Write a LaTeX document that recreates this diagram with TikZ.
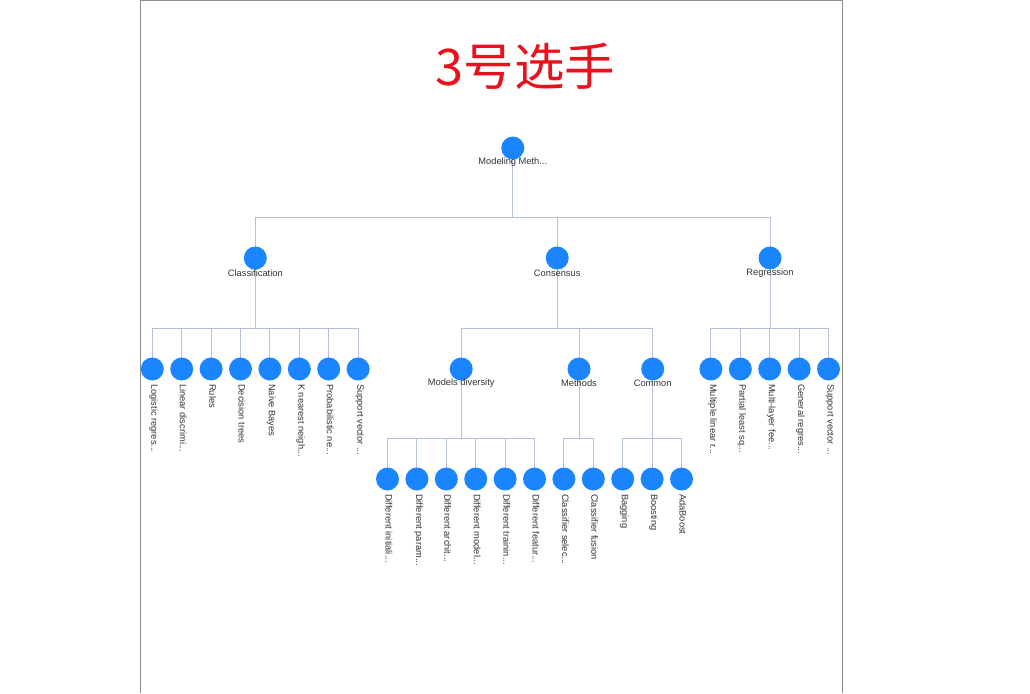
\documentclass[tikz,border=0pt]{standalone}
\usepackage{fontspec}
\setmainfont{Liberation Sans}
\newfontfamily\cjk{Noto Sans CJK SC}
\usetikzlibrary{backgrounds}
\newcommand\trdots{.{}.{}.}
\definecolor{dotblue}{HTML}{1A85FF}
\definecolor{edgecol}{HTML}{B4C0DC}
\definecolor{titlered}{HTML}{E8121C}
\definecolor{txt}{HTML}{333333}
\definecolor{framecol}{HTML}{8C8C8C}
\tikzset{
 dot/.style={circle,fill=dotblue,minimum size=23pt,inner sep=0pt},
 edge/.style={draw=edgecol,line width=1pt},
 lbl/.style={font=\fontsize{9.3}{11}\selectfont,text=txt,inner sep=0pt},
 leaflbl/.style={lbl,rotate=-90,anchor=west},
 frameline/.style={draw=framecol,line width=1pt},
 titlestyle/.style={font=\cjk\fontsize{50.5}{54}\selectfont,text=titlered,inner sep=0pt},
}
\begin{document}
\begin{tikzpicture}[x=1pt,y=-1pt]
\useasboundingbox (0,0) rectangle (1030,693);
\draw[frameline] (140,693) -- (140,1) -- (842,1) -- (842,693);
\node[titlestyle] (title) at (525.5,66) {3号选手};
% internal nodes
\node[dot] (root) at (512.8,148) {};
\node[dot] (cls) at (255.3,258) {};
\node[dot] (con) at (557.2,258) {};
\node[dot] (reg) at (770,258) {};
\node[dot] (md) at (461.2,369) {};
\node[dot] (mth) at (579,369) {};
\node[dot] (com) at (652.7,369) {};
% leaves
\foreach \k/\y/\t in {
 0/369/{Logistic regres\trdots},
 1/369/{Linear discrimi\trdots},
 2/369/{Rules},
 3/369/{Decision trees},
 4/369/{Naive Bayes},
 5/369/{K nearest neigh\trdots},
 6/369/{Probabilistic ne\trdots},
 7/369/{Support vector \trdots},
 8/479/{Different initiali\trdots},
 9/479/{Different param\trdots},
 10/479/{Different archit\trdots},
 11/479/{Different model\trdots},
 12/479/{Different trainin\trdots},
 13/479/{Different featur\trdots},
 14/479/{Classifier selec\trdots},
 15/479/{Classifier fusion},
 16/479/{Bagging},
 17/479/{Boosting},
 18/479/{AdaBoost},
 19/369/{Multiple linear r\trdots},
 20/369/{Partial least sq\trdots},
 21/369/{Multi-layer fee\trdots},
 22/369/{General regres\trdots},
 23/369/{Support vector \trdots}}{
 \node[dot] (l\k) at ({152.3+29.4*\k},\y) {};
 \node[leaflbl] (t\k) at ({153.8+29.4*\k},{\y+15}) {\t};
}
% connectors
\begin{scope}[on background layer]
\foreach \c in {cls,con,reg} \draw[edge] (root.center) -- ++(0,69) -| (\c.center);
\foreach \k in {0,...,7} \draw[edge] (cls.center) -- ++(0,70) -| (l\k.center);
\foreach \c in {md,mth,com} \draw[edge] (con.center) -- ++(0,70) -| (\c.center);
\foreach \k in {19,...,23} \draw[edge] (reg.center) -- ++(0,70) -| (l\k.center);
\foreach \k in {8,...,13} \draw[edge] (md.center) -- ++(0,69) -| (l\k.center);
\foreach \k in {14,15} \draw[edge] (mth.center) -- ++(0,69) -| (l\k.center);
\foreach \k in {16,17,18} \draw[edge] (com.center) -- ++(0,69) -| (l\k.center);
\end{scope}
% labels of inner nodes
\node[lbl] (rootlbl) at (512.8,162) {Modeling Meth\trdots};
\node[lbl] (clslbl) at (255.3,273) {Classification};
\node[lbl] (conlbl) at (557.2,273) {Consensus};
\node[lbl] (reglbl) at (770,273) {Regression};
\node[lbl] (mdlbl) at (461.2,383) {Models diversity};
\node[lbl] (mthlbl) at (579,383) {Methods};
\node[lbl] (comlbl) at (652.7,383) {Common};
\end{tikzpicture}
\end{document}
